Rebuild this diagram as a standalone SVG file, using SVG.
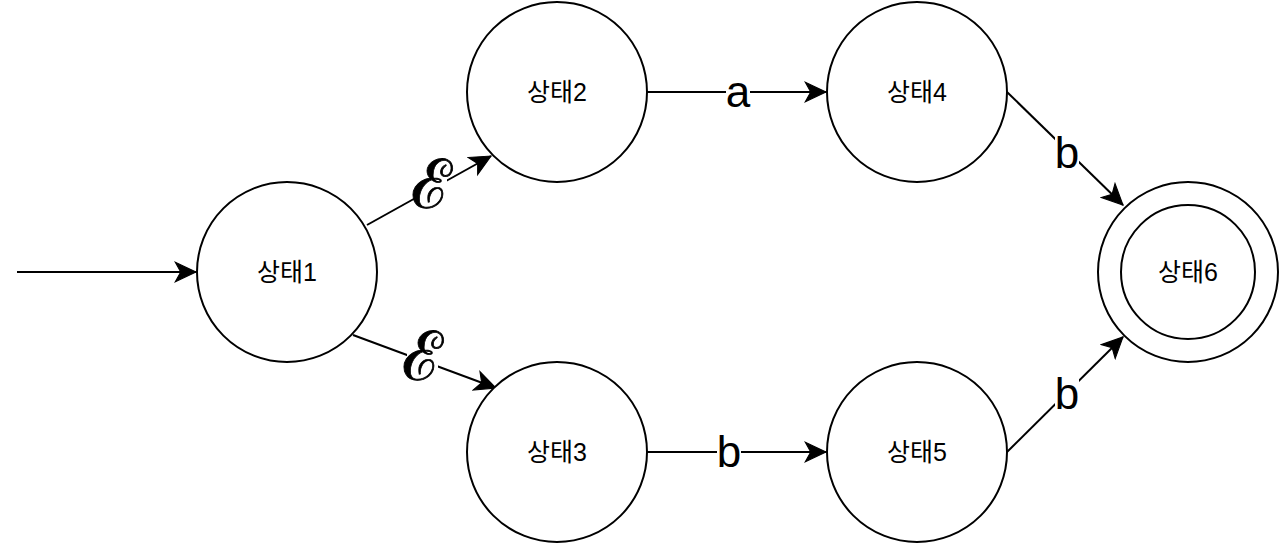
<svg xmlns="http://www.w3.org/2000/svg" width="1280" height="543" viewBox="0 0 1280 543">
<style>
.st{fill:#fff;stroke:#000;stroke-width:2}
.nt{font-family:"Liberation Sans","Noto Sans CJK KR",sans-serif;font-size:25px;fill:#000;text-anchor:middle;dominant-baseline:central}
.ed{fill:none;stroke:#000;stroke-width:2;marker-end:url(#arr)}
.lb{font-family:"Liberation Sans",Arial,sans-serif;font-size:44px;fill:#000;text-anchor:middle;dominant-baseline:central}
.ep{font-family:"DejaVu Serif",serif;font-size:68px;fill:#000;text-anchor:middle;dominant-baseline:central;stroke:#000;stroke-width:0.8}
.bg{fill:#fff}
</style>
<defs>
<marker id="arr" markerUnits="userSpaceOnUse" markerWidth="24" markerHeight="24" viewBox="-20 -10 22 20" refX="0" refY="0" orient="auto">
<path d="M-19,-9 L0,0 L-19,9 L-14,0 Z" fill="#000" stroke="#000" stroke-width="1"/>
</marker>
</defs>
<g id="edges">
<path class="ed" d="M17,272 L196,272"/>
<path class="ed" d="M367,225 L491,156"/>
<path class="ed" d="M353,335 L496,388"/>
<path class="ed" d="M647,92 L826,92"/>
<path class="ed" d="M647,452 L826,452"/>
<path class="ed" d="M1007,92 L1123,205"/>
<path class="ed" d="M1007,452 L1123,337"/>
<rect class="bg" x="415" y="160" width="32" height="60"/>
<text class="ep" x="431" y="184">ℰ</text>
<rect class="bg" x="407" y="332" width="31" height="58"/>
<text class="ep" x="422" y="356">ℰ</text>
<rect class="bg" x="726" y="65" width="24" height="52"/>
<text class="lb" x="738" y="91">a</text>
<rect class="bg" x="717" y="425" width="24" height="52"/>
<text class="lb" x="729" y="451">b</text>
<rect class="bg" x="1055" y="127" width="24" height="50"/>
<text class="lb" x="1067" y="152">b</text>
<rect class="bg" x="1055" y="367" width="24" height="53"/>
<text class="lb" x="1067" y="393">b</text>
</g>
<g id="state1"><circle class="st" cx="287" cy="272" r="90"/><text class="nt" x="287" y="272">상태1</text></g>
<g id="state2"><circle class="st" cx="557" cy="92" r="90"/><text class="nt" x="557" y="92">상태2</text></g>
<g id="state3"><circle class="st" cx="557" cy="452" r="90"/><text class="nt" x="557" y="452">상태3</text></g>
<g id="state4"><circle class="st" cx="917" cy="92" r="90"/><text class="nt" x="917" y="92">상태4</text></g>
<g id="state5"><circle class="st" cx="917" cy="452" r="90"/><text class="nt" x="917" y="452">상태5</text></g>
<g id="state6"><circle class="st" cx="1188" cy="272" r="90"/><circle class="st" cx="1188" cy="272" r="67"/><text class="nt" x="1188" y="272">상태6</text></g>
</svg>
